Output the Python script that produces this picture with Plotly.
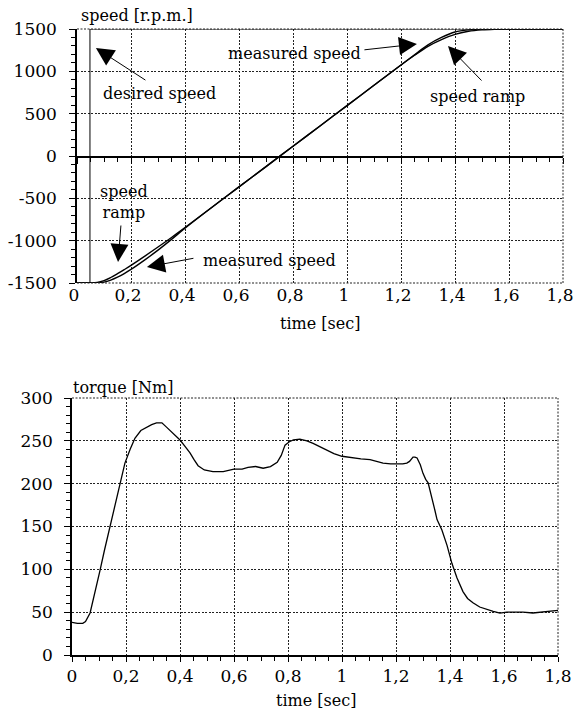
import plotly.graph_objects as go

W, H = 575, 710

# ---------------- data ----------------
time_speed = [0, 0.05, 0.075, 0.1, 0.125, 0.15, 0.175, 0.2, 0.25, 0.3, 0.35, 0.4, 0.5, 0.6,
              0.7, 0.8, 0.9, 1.0, 1.1, 1.2, 1.25, 1.3, 1.35, 1.4, 1.45, 1.5, 1.55, 1.6, 1.7, 1.8]
speed_ramp = [-1500, -1500, -1494, -1472, -1435, -1390, -1342, -1292, -1185, -1075, -962, -845,
              -605, -365, -125, 115, 355, 595, 835, 1075, 1190, 1296, 1375, 1437, 1473, 1490,
              1497, 1500, 1500, 1500]
speed_measured = [-1500, -1500, -1499, -1489, -1465, -1431, -1388, -1340, -1230, -1112, -985,
                  -853, -605, -365, -125, 115, 355, 595, 835, 1075, 1195, 1313, 1400, 1465,
                  1490, 1497, 1499, 1500, 1500, 1500]
desired_time = [0, 0.048, 0.048, 1.8]
desired_speed = [-1500, -1500, 1500, 1500]

time_torque = [0, 0.02, 0.04, 0.05, 0.067, 0.085, 0.104, 0.12, 0.14, 0.16, 0.18, 0.196, 0.215,
               0.233, 0.255, 0.277, 0.295, 0.313, 0.333, 0.35, 0.375, 0.4, 0.42, 0.437, 0.452,
               0.467, 0.49, 0.522, 0.56, 0.6, 0.63, 0.652, 0.68, 0.708, 0.735, 0.76, 0.775,
               0.789, 0.805, 0.82, 0.844, 0.87, 0.893, 0.92, 0.944, 0.97, 1.0, 1.04, 1.07,
               1.104, 1.13, 1.152, 1.18, 1.204, 1.225, 1.24, 1.25, 1.263, 1.27, 1.278, 1.29,
               1.3, 1.31, 1.319, 1.33, 1.344, 1.352, 1.37, 1.389, 1.407, 1.426, 1.448, 1.465,
               1.485, 1.51, 1.537, 1.56, 1.585, 1.61, 1.633, 1.67, 1.707, 1.735, 1.76, 1.78, 1.8]
torque = [38, 37, 37, 39, 49, 72, 99, 122, 149, 178, 205, 224, 240, 253, 262, 266, 269, 271,
          271, 266, 259, 251, 243, 236, 228, 221, 216, 214, 214, 217, 217, 219, 220, 218, 220,
          225, 233, 245, 249, 251, 252, 250, 247, 243, 239, 235, 232, 230, 229, 228, 226, 224,
          223, 223, 223, 224, 226, 231, 231, 230, 222, 212, 205, 201, 188, 169, 158, 146, 128,
          107, 90, 74, 66, 61, 56, 53, 51, 49, 50, 50, 50, 49, 50, 51, 51, 52]

time_ticks = [0, 0.2, 0.4, 0.6, 0.8, 1.0, 1.2, 1.4, 1.6, 1.8]
time_tick_labels = ["0", "0,2", "0,4", "0,6", "0,8", "1", "1,2", "1,4", "1,6", "1,8"]
speed_ticks = [1500, 1000, 500, 0, -500, -1000, -1500]
speed_tick_labels = ["1500", "1000", "500", "0", "-500", "-1000", "-1500"]
torque_ticks = [0, 50, 100, 150, 200, 250, 300]
torque_tick_labels = ["0", "50", "100", "150", "200", "250", "300"]

assert len(time_speed) == len(speed_ramp) == len(speed_measured)
assert len(time_torque) == len(torque)

# ---------------- helpers ----------------
def px(x):
    return x / W

def py(y):
    return 1 - y / H

FONT = "DejaVu Serif"
TICK_FS = 17
TEXT_FS = 16
tickfont = dict(family=FONT, size=TICK_FS, color="black")
GRID = dict(showgrid=True, gridcolor="#222222", gridwidth=1, griddash="2px,1.5px",
            automargin=False, ticklabeloverflow="allow")

top_x = [px(77), px(563)]
top_y = [py(283), py(29)]
bot_x = [px(72), px(558)]
bot_y = [py(655), py(398)]

fig = go.Figure()
line_style = dict(color="black", width=1.4)
fig.add_trace(go.Scatter(x=desired_time, y=desired_speed, mode="lines",
                         line=dict(color="black", width=1), xaxis="x", yaxis="y"))
fig.add_trace(go.Scatter(x=time_speed, y=speed_ramp, mode="lines", line=line_style,
                         line_shape="spline", xaxis="x", yaxis="y"))
fig.add_trace(go.Scatter(x=time_speed, y=speed_measured, mode="lines", line=line_style,
                         line_shape="spline", xaxis="x", yaxis="y"))
fig.add_trace(go.Scatter(x=time_torque, y=torque, mode="lines", line=dict(color="black", width=1.3),
                         xaxis="x2", yaxis="y2"))
fig.add_trace(go.Scatter(x=[None], y=[None], mode="lines", xaxis="x3", yaxis="y", hoverinfo="skip"))

def minor(dt):
    return dict(dtick=dt, tick0=0, ticks="outside", ticklen=4, tickwidth=1,
                tickcolor="black", showgrid=False)

fig.update_layout(
    template="none",
    width=W, height=H, margin=dict(l=0, r=0, t=0, b=0, pad=0, autoexpand=False),
    paper_bgcolor="white", plot_bgcolor="white", showlegend=False,
    separators=", ",
    font=dict(family=FONT, size=TEXT_FS, color="black"),
    xaxis=dict(domain=top_x, range=[0, 1.8], anchor="free", position=py(157),
               tickmode="linear", tick0=0, dtick=0.2, showticklabels=False,
               ticks="outside", ticklen=6, tickwidth=1, tickcolor="black",
               showline=True, linecolor="black", linewidth=1.5, zeroline=False,
               minor=minor(0.05), **GRID),
    xaxis3=dict(overlaying="x", anchor="y", side="bottom", range=[0, 1.8],
                tickmode="array", tickvals=time_ticks, ticktext=time_tick_labels,
                tickfont=tickfont, ticks="", showline=False, showgrid=False, zeroline=False,
                ticklabelshift=-3, automargin=False, ticklabeloverflow="allow"),
    yaxis=dict(domain=top_y, range=[-1500, 1500], anchor="x",
               tickmode="array", tickvals=speed_ticks, ticktext=speed_tick_labels,
               tickfont=tickfont, ticks="outside", ticklen=6, tickwidth=1, tickcolor="black",
               ticklabelstandoff=9,
               showline=True, linecolor="black", linewidth=1.5, zeroline=False,
               minor=minor(100), **GRID),
    xaxis2=dict(domain=bot_x, range=[0, 1.8], anchor="y2",
                tickmode="array", tickvals=time_ticks, ticktext=time_tick_labels,
                tickfont=tickfont, ticks="outside", ticklen=5, tickwidth=1, tickcolor="black",
                ticklabelstandoff=0,
                showline=True, linecolor="black", linewidth=1.5, zeroline=False,
                minor=minor(0.05), **GRID),
    yaxis2=dict(domain=bot_y, range=[0, 300], anchor="x2",
                tickmode="array", tickvals=torque_ticks, ticktext=torque_tick_labels,
                tickfont=tickfont, ticks="outside", ticklen=6, tickwidth=1, tickcolor="black",
                ticklabelstandoff=8,
                showline=True, linecolor="black", linewidth=1.5, zeroline=False,
                minor=minor(10), **GRID),
)

frame = dict(color="#222222", width=1, dash="2px,1.5px")
for xr, yr in (("x", "y"), ("x2", "y2")):
    fig.add_shape(type="line", xref=f"{xr} domain", yref=f"{yr} domain",
                  x0=1, x1=1, y0=0, y1=1, line=frame)
    fig.add_shape(type="line", xref=f"{xr} domain", yref=f"{yr} domain",
                  x0=0, x1=1, y0=1, y1=1, line=frame)
fig.add_shape(type="line", xref="x domain", yref="y domain", x0=0, x1=1, y0=0, y1=0, line=frame)

def text_ann(txt, x, y, xanchor="center", yanchor="middle"):
    fig.add_annotation(text=txt, x=px(x), y=py(y), xref="paper", yref="paper",
                       showarrow=False, xanchor=xanchor, yanchor=yanchor,
                       font=dict(family=FONT, size=TEXT_FS, color="black"))

def arrow_ann(tip_t, tip_v, ax, ay, xref="x", yref="y"):
    fig.add_annotation(text="", x=tip_t, y=tip_v, xref=xref, yref=yref,
                       showarrow=True, ax=ax, ay=ay, arrowhead=2, arrowsize=3.6,
                       arrowwidth=1, arrowcolor="black", standoff=0)

text_ann("speed [r.p.m.]", 79, 16, "left")
text_ann("time [sec]", 320, 323)
text_ann("torque [Nm]", 71, 387, "left")
text_ann("time [sec]", 316, 700)

text_ann("desired speed", 101, 93, "left")
text_ann("measured speed", 226, 53, "left")
text_ann("speed ramp", 428, 96, "left")
text_ann("speed<br>ramp", 124, 202)
text_ann("measured speed", 201, 261, "left")

arrow_ann(0.070, 1275, 51, 33)
arrow_ann(1.259, 1323, -54, 6)
arrow_ann(1.374, 1299, 35, 36)
arrow_ann(0.152, -1252, 3, -38)
arrow_ann(0.259, -1311, 48, -9)

fig.write_html("out.html")
